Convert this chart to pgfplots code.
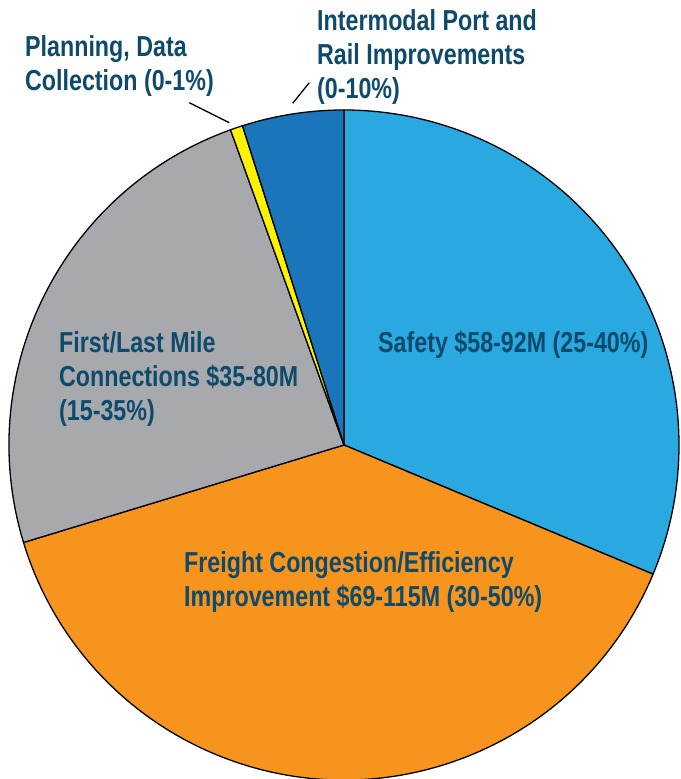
\documentclass[border=0pt]{standalone}
\usepackage{pgfplots}
\pgfplotsset{compat=1.18}
\usepackage{fontspec}
\setmainfont{Liberation Sans}[FakeStretch=0.805]
\definecolor{txt}{HTML}{0E4A6B}
\definecolor{safety}{HTML}{29A9E0}
\definecolor{freight}{HTML}{F7941D}
\definecolor{firstlast}{HTML}{A7A9AC}
\definecolor{planning}{HTML}{FFF200}
\definecolor{intermodal}{HTML}{1B75BB}
\def\slStart{90}
\newcommand\pieslice[2]{%
  \pgfmathsetmacro\slEnd{\slStart-3.6*#1}%
  \edef\tmp{\noexpand\fill[#2, draw=black, line width=1.3bp, line join=round]
    (axis cs:344,334) -- ([shift={(\slStart:335bp)}]axis cs:344,334)
    arc[start angle=\slStart, end angle=\slEnd, radius=335bp] -- cycle;}%
  \tmp
  \global\let\slStart\slEnd
}
\begin{document}
\begin{tikzpicture}
\begin{axis}[width=681bp, height=779bp, scale only axis,
  xmin=0, xmax=681, ymin=0, ymax=779, hide axis, clip=false]
\coordinate (bl) at (axis cs:0,0);
\coordinate (tr) at (axis cs:681,779);
% slices, clockwise from 12 o'clock, in percent
\pieslice{31.3}{safety}
\pieslice{39.0}{freight}
\pieslice{24.2}{firstlast}
\pieslice{0.6}{planning}
\pieslice{4.9}{intermodal}
% leader lines
\draw[black, line width=1.3bp] (axis cs:189.3,676.3) -- (axis cs:229.3,656.3);
\draw[black, line width=1.3bp] (axis cs:292.7,675.7) -- (axis cs:309.3,696.3);
\tikzset{lab/.style={anchor=base west, text=txt, inner sep=0pt,
  font=\bfseries\fontsize{29}{34}\selectfont}}
\node[lab] at (axis cs:378,426) {Safety \$58-92M (25-40\%)};
\node[lab] at (axis cs:59,426) {First/Last Mile};
\node[lab] at (axis cs:59,392) {Connections \$35-80M};
\node[lab] at (axis cs:59,358) {(15-35\%)};
\node[lab] at (axis cs:184,206) {Freight Congestion/Efficiency};
\node[lab] at (axis cs:184,172) {Improvement \$69-115M (30-50\%)};
\node[lab] at (axis cs:25,722) {Planning, Data};
\node[lab] at (axis cs:25,688) {Collection (0-1\%)};
\node[lab] at (axis cs:317,748) {Intermodal Port and};
\node[lab] at (axis cs:317,714) {Rail Improvements};
\node[lab] at (axis cs:317,680) {(0-10\%)};
\end{axis}
\pgfresetboundingbox
\path[use as bounding box] (bl) rectangle (tr);
\end{tikzpicture}
\end{document}
